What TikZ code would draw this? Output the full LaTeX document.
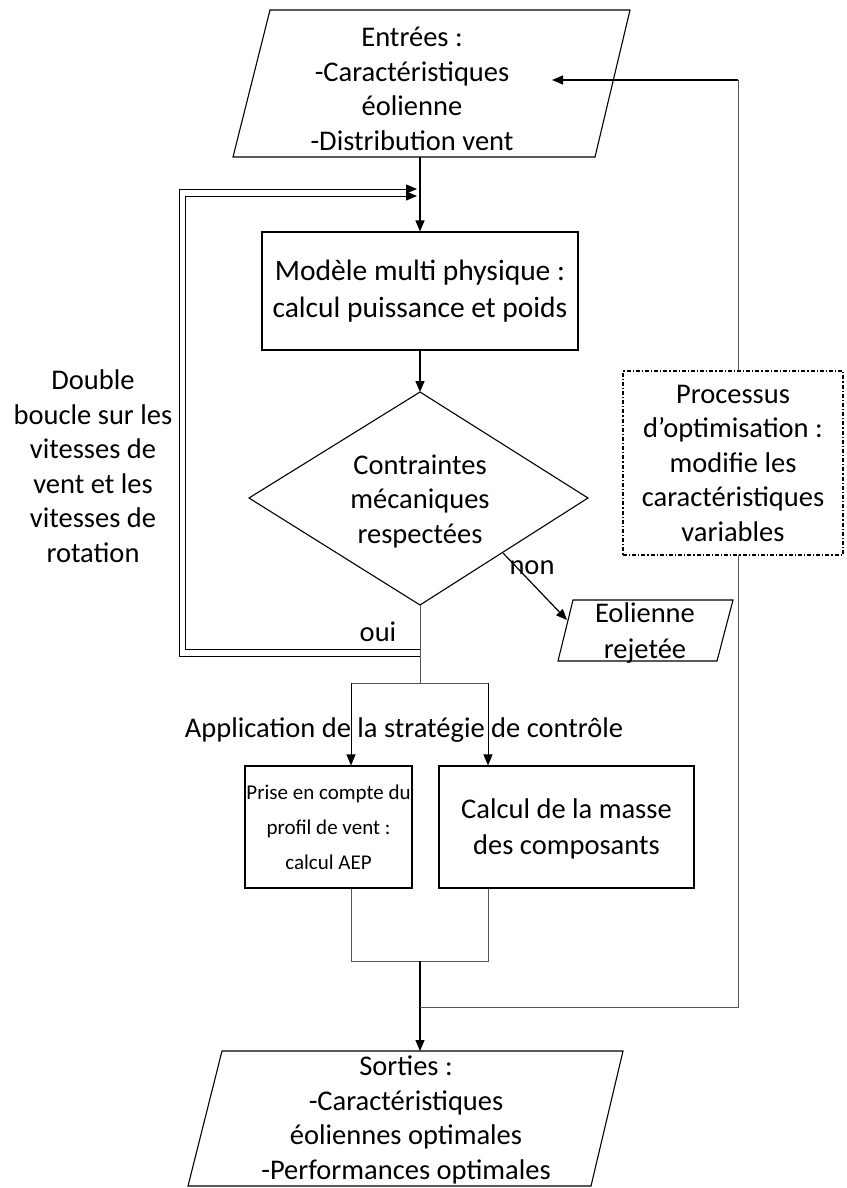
\documentclass[tikz,border=0pt]{standalone}
\usepackage{fontspec}
\setmainfont{Carlito}
\usetikzlibrary{arrows.meta}
\definecolor{thinline}{HTML}{555555}
\tikzset{
  txt/.style={align=center, inner sep=0pt, font=\fontsize{28.5}{34.5}\selectfont},
  shapeline/.style={draw=black, line width=1.1pt},
  boxnode/.style={draw=black, line width=1.1pt, txt, minimum width=#1},
  mainarrow/.style={draw=black, line width=1.4pt, -{Triangle[length=11pt,width=9pt]}},
  thin/.style={draw=thinline, line width=1pt},
  thinarrow/.style={draw=black, line width=1pt, -{Triangle[length=11pt,width=9pt]}},
}
\begin{document}
\begin{tikzpicture}[x=1pt,y=-1pt]
\useasboundingbox (0,0) rectangle (846,1188);

% ---------- Entrees parallelogram
\coordinate (e1) at (270,10);
\coordinate (e2) at (630,10);
\coordinate (e3) at (595,157);
\coordinate (e4) at (233,157);
\draw[shapeline] (e1) -- (e2) -- (e3) -- (e4) -- cycle;
\node[txt] (entrees) at (412,89) {Entrées :\\-Caractéristiques\\éolienne\\-Distribution vent};
\coordinate (entreesS) at (420,157);
\coordinate (entreesR) at (552,80);

% ---------- Modele box
\node[boxnode=316pt, minimum height=118pt, font=\fontsize{29.5}{37}\selectfont] (modele) at (420,291) {Modèle multi physique :\\calcul puissance et poids};

% ---------- Diamond
\coordinate (dT) at (420,392);
\coordinate (dL) at (249,498);
\coordinate (dR) at (588,498);
\coordinate (dB) at (420,605);
\draw[shapeline] (dT) -- (dR) -- (dB) -- (dL) -- cycle;
\node[txt] (contraintes) at (420,501) {Contraintes\\mécaniques\\respectées};
\coordinate (dNon) at (503,553);

% ---------- Eolienne rejetee
\coordinate (r1) at (573,600);
\coordinate (r2) at (733,600);
\coordinate (r3) at (717,661);
\coordinate (r4) at (558,661);
\draw[shapeline] (r1) -- (r2) -- (r3) -- (r4) -- cycle;
\node[txt, font=\fontsize{28.5}{36}\selectfont] (rejet) at (645,633) {Eolienne\\rejetée};
\coordinate (rejetL) at (567,620);

% ---------- Processus (dash dot)
\node[draw=black, line width=1.1pt, dash pattern=on 4pt off 2pt on 1.2pt off 2pt, txt, minimum width=220pt, minimum height=184pt] (proc) at (733,463) {Processus\\d’optimisation :\\modifie les\\caractéristiques\\variables};
\coordinate (procN) at (738,371);
\coordinate (procS) at (738,555);

% ---------- Left text
\node[txt] (double) at (93,466) {Double\\boucle sur les\\vitesses de\\vent et les\\vitesses de\\rotation};

% ---------- labels
\node[txt] (oui) at (378,632) {oui};
\node[txt] (non) at (532,568) {non};
\node[txt] (appli) at (404,730) {Application de la stratégie de contrôle};

% ---------- lower boxes
\node[draw=black, line width=1.1pt, align=center, inner sep=0pt, font=\fontsize{21}{35}\selectfont, minimum width=167pt, minimum height=122pt] (lbox) at (328.5,827) {Prise en compte du\\profil de vent :\\calcul AEP};
\node[boxnode=255pt, minimum height=122pt, text depth=-6pt, font=\fontsize{28.5}{36}\selectfont] (rbox) at (566.5,827) {Calcul de la masse\\des composants};

% ---------- Sorties parallelogram
\coordinate (s1) at (222,1051);
\coordinate (s2) at (623,1051);
\coordinate (s3) at (591,1186);
\coordinate (s4) at (188,1186);
\draw[shapeline] (s1) -- (s2) -- (s3) -- (s4) -- cycle;
\node[txt] (sorties) at (406,1120) {Sorties :\\-Caractéristiques\\éoliennes optimales\\-Performances optimales};
\coordinate (sortiesN) at (420,1051);

% ---------- connectors
\draw[mainarrow] (entreesS) -- (modele.north);
\draw[mainarrow] (modele.south) -- (dT);

% double loop
\coordinate (loopIn) at (420,649);
\coordinate (loopOut) at (420,656);
\coordinate (loopInEnd) at (417,196);
\coordinate (loopOutEnd) at (417,189);
\draw[thinarrow] (loopIn) -- (185,649) -- (185,196) -- (loopInEnd);
\draw[thinarrow] (loopOut) -- (179,656) -- (179,189) -- (loopOutEnd);

% split
\coordinate (split) at (420,683);
\coordinate (splitL) at (351,683);
\coordinate (splitR) at (488,683);
\draw[thin] (dB) -- (split);
\draw[thin] (splitL) -- (splitR);
\draw[thinarrow] (splitL) -- (splitL |- lbox.north);
\draw[thinarrow] (splitR) -- (splitR |- rbox.north);

% non
\draw[thinarrow, line width=1.2pt] (dNon) -- (rejetL);

% merge
\coordinate (mergeL) at (351,961);
\coordinate (mergeR) at (488,961);
\coordinate (merge) at (420,961);
\draw[thin] (mergeL |- lbox.south) -- (mergeL) -- (mergeR) -- (mergeR |- rbox.south);
\draw[mainarrow] (merge) -- (sortiesN);

% feedback
\coordinate (fbJoin) at (420,1007);
\draw[thin] (procS) -- (738,1007) -- (fbJoin);
\draw[thin] (procN) -- (738,80);
\draw[mainarrow, line width=1.2pt] (738,80) -- (entreesR);
\end{tikzpicture}
\end{document}
